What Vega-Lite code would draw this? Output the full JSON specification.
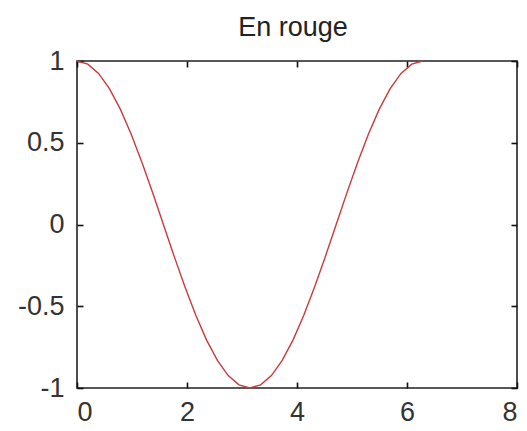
{
  "$schema": "https://vega.github.io/schema/vega-lite/v6.json",
  "width": 440,
  "height": 327,
  "autosize": {"type": "none"},
  "padding": {"left": 77, "top": 61, "right": 10, "bottom": 43},
  "background": "white",
  "title": {
    "text": "En rouge",
    "font": "Liberation Sans",
    "fontSize": 27,
    "fontWeight": "normal",
    "color": "#222222",
    "offset": 5,
    "anchor": "middle",
    "dx": -4
  },
  "config": {
    "view": {"stroke": "#222222", "strokeWidth": 1.6},
    "axis": {
      "grid": false,
      "domain": false,
      "labelFont": "Liberation Sans",
      "labelFontSize": 27,
      "labelColor": "#333333",
      "title": null
    }
  },
  "data": {
    "values": [
      {"x": 0.0, "y": 1.0},
      {"x": 0.19635, "y": 0.98079},
      {"x": 0.3927, "y": 0.92388},
      {"x": 0.58905, "y": 0.83147},
      {"x": 0.7854, "y": 0.70711},
      {"x": 0.98175, "y": 0.55557},
      {"x": 1.1781, "y": 0.38268},
      {"x": 1.37445, "y": 0.19509},
      {"x": 1.5708, "y": 0.0},
      {"x": 1.76715, "y": -0.19509},
      {"x": 1.9635, "y": -0.38268},
      {"x": 2.15984, "y": -0.55557},
      {"x": 2.35619, "y": -0.70711},
      {"x": 2.55254, "y": -0.83147},
      {"x": 2.74889, "y": -0.92388},
      {"x": 2.94524, "y": -0.98079},
      {"x": 3.14159, "y": -1.0},
      {"x": 3.33794, "y": -0.98079},
      {"x": 3.53429, "y": -0.92388},
      {"x": 3.73064, "y": -0.83147},
      {"x": 3.92699, "y": -0.70711},
      {"x": 4.12334, "y": -0.55557},
      {"x": 4.31969, "y": -0.38268},
      {"x": 4.51604, "y": -0.19509},
      {"x": 4.71239, "y": 0.0},
      {"x": 4.90874, "y": 0.19509},
      {"x": 5.10509, "y": 0.38268},
      {"x": 5.30144, "y": 0.55557},
      {"x": 5.49779, "y": 0.70711},
      {"x": 5.69414, "y": 0.83147},
      {"x": 5.89049, "y": 0.92388},
      {"x": 6.08684, "y": 0.98079},
      {"x": 6.28319, "y": 1.0}
    ]
  },
  "layer": [
    {
      "mark": {"type": "line", "color": "#cc3a3a", "strokeWidth": 1.4},
      "encoding": {
        "x": {
          "field": "x",
          "type": "quantitative",
          "scale": {"domain": [0, 8], "nice": false, "zero": false},
          "axis": {"orient": "bottom", "values": [0, 2, 4, 6, 8], "ticks": true, "tickSize": -6, "tickWidth": 1.6, "tickColor": "#111111", "labelPadding": 17, "labelExpr": "datum.value + ''"}
        },
        "y": {
          "field": "y",
          "type": "quantitative",
          "scale": {"domain": [-1, 1], "nice": false, "zero": false},
          "axis": {"orient": "left", "values": [-1, -0.5, 0, 0.5, 1], "ticks": true, "tickSize": -6, "tickWidth": 1.6, "tickColor": "#111111", "labelPadding": 19, "labelExpr": "datum.value + ''"}
        }
      }
    },
    {
      "mark": {"type": "point", "opacity": 0},
      "encoding": {
        "x": {
          "field": "x",
          "type": "quantitative",
          "scale": {"domain": [0, 8], "nice": false, "zero": false},
          "axis": {"orient": "top", "values": [0, 2, 4, 6, 8], "ticks": true, "tickSize": -6, "tickWidth": 1.6, "tickColor": "#111111", "labels": false}
        },
        "y": {
          "field": "y",
          "type": "quantitative",
          "scale": {"domain": [-1, 1], "nice": false, "zero": false},
          "axis": {"orient": "right", "values": [-1, -0.5, 0, 0.5, 1], "ticks": true, "tickSize": -6, "tickWidth": 1.6, "tickColor": "#111111", "labels": false}
        }
      }
    }
  ],
  "resolve": {"axis": {"x": "independent", "y": "independent"}}
}
